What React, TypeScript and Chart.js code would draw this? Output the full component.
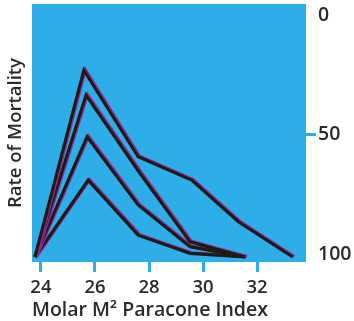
import React, { useEffect, useRef } from "react";
import { Chart, registerables } from "chart.js";

Chart.register(...registerables);

const xTicks = [24, 26, 28, 30, 32];
const yTicks = [0, 50, 100];

const s1x = [23.78, 25.59, 27.6, 29.58, 31.31, 33.32];
const s1y = [101, 23, 59.2, 68.9, 86.3, 101];
const s2x = [23.78, 25.67, 27.6, 29.52, 31.56];
const s2y = [101, 33.4, 65, 94.7, 101];
const s3x = [23.78, 25.71, 27.6, 29.52, 31.56];
const s3y = [101, 50.8, 79.3, 96.7, 101];
const s4x = [23.78, 25.75, 27.6, 29.52, 31.56];
const s4y = [101, 68.9, 91.9, 99.5, 101];

const xTitle = "Molar M\u00B2 Paracone Index";
const yTitle = "Rate of Mortality";

const BLUE = "#2eaee8";
const INK = "#2a2a2a";
const LINE = "#1e1a16";
const FONT = "'Open Sans', 'Liberation Sans', Arial, sans-serif";

const pts = (xs: number[], ys: number[]) => xs.map((x, i) => ({ x, y: ys[i] }));

export default function App() {
  const ref = useRef<HTMLCanvasElement | null>(null);
  useEffect(() => {
    if (!ref.current) return;
    const bgPlugin = {
      id: "plotBg",
      beforeDraw(chart: any) {
        const { ctx, chartArea } = chart;
        ctx.save();
        ctx.fillStyle = BLUE;
        ctx.fillRect(chartArea.left, chartArea.top, chartArea.right - chartArea.left, chartArea.bottom - chartArea.top);
        ctx.restore();
      },
      beforeDatasetDraw(chart: any) {
        const ctx = chart.ctx;
        ctx.save();
        ctx.shadowColor = "rgba(150,40,150,0.95)";
        ctx.shadowOffsetX = 1.5;
        ctx.shadowOffsetY = -0.5;
        ctx.shadowBlur = 0;
      },
      afterDatasetDraw(chart: any) {
        chart.ctx.restore();
      },
    };
    const mk = (xs: number[], ys: number[]) => ({
      data: pts(xs, ys),
      borderColor: LINE,
      borderWidth: 3.2,
      pointRadius: 0,
      tension: 0,
      fill: false,
      borderJoinStyle: "miter" as const,
      yAxisID: "y",
    });
    const chart = new Chart(ref.current, {
      type: "line",
      data: {
        datasets: [mk(s1x, s1y), mk(s2x, s2y), mk(s3x, s3y), mk(s4x, s4y)],
      },
      plugins: [bgPlugin],
      options: {
        responsive: false,
        animation: false,
        layout: { padding: { top: 4, left: 0, right: 0, bottom: 0 } },
        plugins: { legend: { display: false }, tooltip: { enabled: false } },
        scales: {
          x: {
            type: "linear",
            min: 23.67,
            max: 33.81,
            afterBuildTicks: (s: any) => {
              s.ticks = xTicks.map((v) => ({ value: v }));
            },
            afterFit: (s: any) => {
              s.height = 59;
              s.paddingLeft = 0;
              s.paddingRight = 0;
            },
            border: { display: false },
            grid: {
              drawOnChartArea: false,
              drawTicks: true,
              tickLength: 10,
              tickWidth: 3,
              tickColor: BLUE,
            },
            ticks: {
              color: INK,
              padding: 5,
              font: { family: FONT, size: 18.5, weight: 600 },
              maxRotation: 0,
            },
            title: {
              display: true,
              text: xTitle,
              align: "start",
              color: INK,
              font: { family: FONT, size: 19.5, weight: 600 },
              padding: { top: 0, bottom: -1 },
            },
          },
          y: {
            type: "linear",
            position: "right",
            reverse: true,
            min: -4.6,
            max: 103.1,
            afterBuildTicks: (s: any) => {
              s.ticks = yTicks.map((v) => ({ value: v }));
            },
            afterFit: (s: any) => {
              s.width = 48;
              s.paddingTop = 0;
              s.paddingBottom = 0;
            },
            border: { display: false },
            grid: {
              drawOnChartArea: false,
              drawTicks: true,
              tickLength: 10,
              tickWidth: 3,
              tickColor: (c: any) => (c.tick && c.tick.value === 50 ? BLUE : "rgba(0,0,0,0)"),
            },
            ticks: {
              color: INK,
              padding: 2,
              font: { family: FONT, size: 19.5, weight: 600 },
            },
          },
          yL: {
            type: "linear",
            position: "left",
            min: 0,
            max: 1,
            afterFit: (s: any) => {
              s.width = 32;
              s.paddingTop = 0;
              s.paddingBottom = 0;
            },
            border: { display: false },
            grid: { display: false },
            ticks: { display: false },
            title: {
              display: true,
              text: yTitle,
              color: INK,
              font: { family: FONT, size: 18.5, weight: 600 },
              padding: { top: 5, bottom: 0 },
            },
          },
        },
      },
    } as any);
    return () => chart.destroy();
  }, []);
  return (
    <div style={{ position: "absolute", left: 0, top: 0, width: 354, height: 321, background: "#fff" }}>
      <canvas ref={ref} width={354} height={321} style={{ display: "block" }} />
    </div>
  );
}
